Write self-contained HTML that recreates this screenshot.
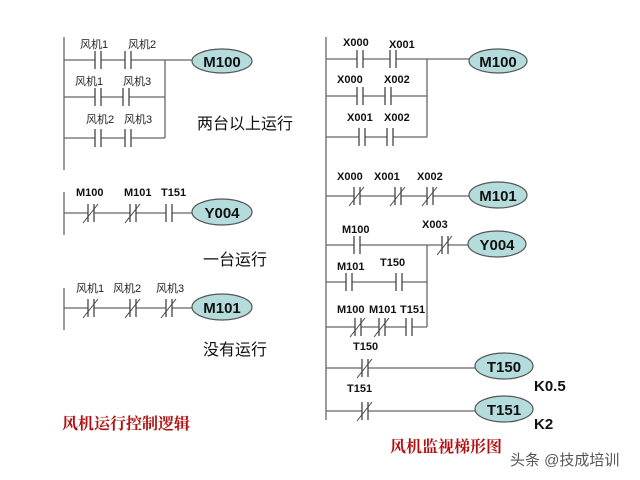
<!DOCTYPE html>
<html><head><meta charset="utf-8"><style>
html,body{margin:0;padding:0;background:#fff;width:640px;height:480px;overflow:hidden}
svg{display:block}
.l{font-family:"Liberation Sans","Noto Sans CJK SC",sans-serif;font-size:11px;fill:#222}
.b{font-family:"Liberation Sans",sans-serif;font-size:11px;font-weight:bold;fill:#111}
.c{font-family:"Liberation Sans",sans-serif;font-size:15px;font-weight:bold;fill:#111}
.z{font-family:"Liberation Sans","Noto Sans CJK SC",sans-serif;font-size:16px;fill:#111}
.r{font-family:"Liberation Serif","Noto Serif CJK SC",serif;font-size:16px;font-weight:bold;fill:#b01010}
</style></head><body>
<svg width="640" height="480" viewBox="0 0 640 480" xmlns="http://www.w3.org/2000/svg">
<defs>
<g id="no"><rect x="0" y="-3" width="6" height="6" fill="#fff"/><line x1="0" y1="-9" x2="0" y2="9" stroke="#444" stroke-width="1.3"/><line x1="6" y1="-9" x2="6" y2="9" stroke="#444" stroke-width="1.3"/></g>
<g id="nc"><use href="#no"/><line x1="-5" y1="10" x2="10" y2="-9" stroke="#444" stroke-width="1"/></g>
</defs>
<g stroke="#666" stroke-width="1.3" fill="none">
<line x1="64" y1="37" x2="64" y2="170"/>
<line x1="64" y1="60" x2="192" y2="60"/>
<line x1="64" y1="97" x2="165" y2="97"/>
<line x1="64" y1="138" x2="165" y2="138"/>
<line x1="165" y1="60" x2="165" y2="138"/>
<line x1="64" y1="192" x2="64" y2="235"/>
<line x1="64" y1="213" x2="192" y2="213"/>
<line x1="64" y1="288" x2="64" y2="330"/>
<line x1="64" y1="308" x2="192" y2="308"/>
<line x1="326" y1="37" x2="326" y2="420"/>
<line x1="326" y1="59" x2="470" y2="59"/>
<line x1="326" y1="96" x2="427" y2="96"/>
<line x1="326" y1="137" x2="427" y2="137"/>
<line x1="427" y1="59" x2="427" y2="137"/>
<line x1="326" y1="196" x2="470" y2="196"/>
<line x1="326" y1="245" x2="470" y2="245"/>
<line x1="326" y1="282" x2="427" y2="282"/>
<line x1="326" y1="327" x2="427" y2="327"/>
<line x1="427" y1="245" x2="427" y2="327"/>
<line x1="326" y1="368" x2="476" y2="368"/>
<line x1="326" y1="411" x2="476" y2="411"/>
</g>
<use href="#no" x="95" y="60"/><use href="#no" x="125" y="60"/>
<use href="#no" x="95" y="97"/><use href="#no" x="123" y="97"/>
<use href="#no" x="95" y="138"/><use href="#no" x="125" y="138"/>
<use href="#nc" x="88" y="213"/><use href="#nc" x="130" y="213"/><use href="#no" x="166" y="213"/>
<use href="#nc" x="88" y="308"/><use href="#nc" x="130" y="308"/><use href="#nc" x="166" y="308"/>
<use href="#no" x="357" y="59"/><use href="#no" x="390" y="59"/>
<use href="#no" x="357" y="96"/><use href="#no" x="385" y="96"/>
<use href="#no" x="359" y="137"/><use href="#no" x="387" y="137"/>
<use href="#nc" x="354" y="196"/><use href="#nc" x="395" y="196"/><use href="#nc" x="427" y="196"/>
<use href="#no" x="354" y="245"/><use href="#nc" x="442" y="245"/>
<use href="#no" x="346" y="282"/><use href="#no" x="396" y="282"/>
<use href="#nc" x="355" y="327"/><use href="#nc" x="379" y="327"/><use href="#no" x="406" y="327"/>
<use href="#nc" x="362" y="368"/>
<use href="#nc" x="362" y="411"/>
<g fill="#b4dcdc" stroke="#555" stroke-width="1.2">
<ellipse cx="222" cy="61" rx="30" ry="12"/>
<ellipse cx="222" cy="212" rx="30" ry="13"/>
<ellipse cx="222" cy="307" rx="30" ry="13"/>
<ellipse cx="498" cy="61" rx="29" ry="12"/>
<ellipse cx="498" cy="195" rx="29" ry="13"/>
<ellipse cx="497" cy="244" rx="29" ry="13"/>
<ellipse cx="504" cy="366" rx="29" ry="13"/>
<ellipse cx="504" cy="409" rx="29" ry="13"/>
</g>
<g class="c" text-anchor="middle">
<text x="222" y="67">M100</text><text x="222" y="218">Y004</text><text x="222" y="313">M101</text>
<text x="498" y="67">M100</text><text x="498" y="201">M101</text><text x="497" y="250">Y004</text>
<text x="504" y="372">T150</text><text x="504" y="415">T151</text>
</g>
<text class="c" x="534" y="391">K0.5</text>
<text class="c" x="534" y="429">K2</text>
<g class="l">
<text x="80" y="48">风机1</text><text x="128" y="48">风机2</text>
<text x="75" y="85">风机1</text><text x="123" y="85">风机3</text>
<text x="86" y="123">风机2</text><text x="124" y="123">风机3</text>
<text x="76" y="292">风机1</text><text x="113" y="292">风机2</text><text x="156" y="292">风机3</text>
</g>
<g class="b">
<text x="76" y="196">M100</text><text x="124" y="196">M101</text><text x="161" y="196">T151</text>
<text x="343" y="46">X000</text><text x="389" y="48">X001</text>
<text x="337" y="83">X000</text><text x="384" y="83">X002</text>
<text x="347" y="121">X001</text><text x="384" y="121">X002</text>
<text x="337" y="180">X000</text><text x="374" y="180">X001</text><text x="417" y="180">X002</text>
<text x="342" y="233">M100</text><text x="422" y="228">X003</text>
<text x="337" y="270">M101</text><text x="380" y="266">T150</text>
<text x="337" y="313">M100</text><text x="369" y="313">M101</text><text x="400" y="313">T151</text>
<text x="353" y="350">T150</text><text x="347" y="392">T151</text>
</g>
<text class="z" x="197" y="129">两台以上运行</text>
<text class="z" x="203" y="265">一台运行</text>
<text class="z" x="203" y="355">没有运行</text>
<text class="r" x="62" y="429">风机运行控制逻辑</text>
<text class="r" x="390" y="452">风机监视梯形图</text>
<text x="510" y="465" style="font-family:'Liberation Sans','Noto Sans CJK SC',sans-serif;font-size:15px;fill:#555">头条 @技成培训</text>
</svg>
</body></html>
